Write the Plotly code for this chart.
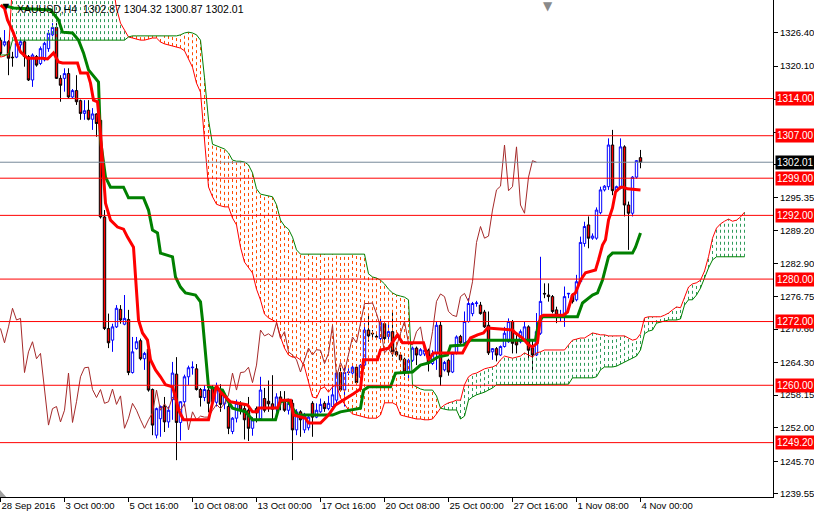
import plotly.graph_objects as go

# ---------------- data (XAUUSD, H4) ----------------
opens = [1325.0, 1324.1, 1324.7, 1321.8, 1321.8, 1324.1, 1324.7, 1321.9, 1317.5, 1321.9,
         1320.6, 1321.3, 1323.4, 1326.0, 1327.4, 1317.8, 1317.8, 1318.7, 1314.3, 1315.5,
         1313.6, 1311.2, 1311.8, 1310.1, 1311.1, 1309.9, 1291.7, 1270.7, 1268.5, 1271.0,
         1274.3, 1271.5, 1272.4, 1262.4, 1266.9, 1268.4, 1265.0, 1266.8, 1259.2, 1250.6,
         1253.7, 1256.0, 1253.1, 1257.3, 1262.1, 1253.0, 1256.9, 1261.6, 1263.3, 1263.1,
         1259.2, 1257.7, 1259.1, 1259.5, 1256.8, 1259.0, 1256.5, 1256.0, 1251.3, 1253.8,
         1256.3, 1255.6, 1255.3, 1251.9, 1255.6, 1253.7, 1257.5, 1257.0, 1256.5, 1255.6,
         1257.8, 1257.2, 1255.3, 1256.6, 1251.6, 1255.0, 1251.6, 1252.0, 1256.6, 1254.0,
         1255.0, 1256.6, 1255.6, 1256.0, 1257.2, 1262.4, 1259.1, 1262.4, 1262.3, 1263.4,
         1261.5, 1263.8, 1270.4, 1269.8, 1269.2, 1268.8, 1271.6, 1269.2, 1270.1, 1266.3,
         1265.7, 1264.9, 1262.5, 1264.7, 1267.0, 1265.7, 1265.9, 1266.6, 1264.1, 1266.0,
         1271.3, 1262.9, 1264.7, 1262.5, 1266.0, 1269.2, 1268.0, 1272.0, 1273.5, 1275.4,
         1275.1, 1273.8, 1271.3, 1266.3, 1266.9, 1265.7, 1267.3, 1268.2, 1272.0, 1268.5,
         1268.2, 1268.5, 1271.0, 1267.0, 1265.7, 1269.8, 1277.3, 1277.0, 1276.7, 1274.2,
         1272.9, 1272.9, 1277.2, 1277.0, 1276.1, 1279.5, 1286.7, 1290.2, 1287.7, 1287.7,
         1292.5, 1296.8, 1297.4, 1305.25, 1296.7, 1297.1, 1304.9, 1293.95, 1292.4, 1299.2,
         1302.87]
highs = [1325.5, 1326.9, 1325.0, 1322.8, 1325.3, 1325.3, 1325.0, 1322.2, 1322.5, 1322.2,
         1323.8, 1324.7, 1326.9, 1328.2, 1328.2, 1318.4, 1319.7, 1319.7, 1315.8, 1318.4,
         1313.8, 1313.7, 1313.7, 1312.2, 1311.2, 1310.2, 1293.0, 1273.5, 1271.6, 1275.1,
         1275.1, 1277.0, 1274.2, 1269.1, 1269.1, 1268.8, 1266.3, 1266.9, 1259.4, 1255.8,
         1256.2, 1257.8, 1256.0, 1264.4, 1265.3, 1257.0, 1262.0, 1263.7, 1264.5, 1264.0,
         1259.5, 1260.0, 1259.8, 1260.0, 1260.5, 1260.2, 1258.5, 1256.5, 1254.0, 1257.3,
         1257.0, 1256.5, 1257.8, 1254.0, 1256.0, 1261.6, 1259.5, 1260.9, 1261.9, 1258.5,
         1258.9, 1258.9, 1257.5, 1257.3, 1255.5, 1255.3, 1254.8, 1254.5, 1257.0, 1256.6,
         1257.5, 1257.0, 1258.0, 1260.0, 1262.8, 1263.6, 1263.8, 1263.2, 1263.8, 1263.7,
         1264.0, 1271.7, 1273.2, 1270.4, 1269.6, 1272.6, 1271.9, 1272.0, 1273.9, 1266.8,
         1266.0, 1265.2, 1265.0, 1267.3, 1267.3, 1267.0, 1267.2, 1266.9, 1266.6, 1272.0,
         1272.0, 1264.6, 1265.0, 1266.3, 1269.4, 1269.5, 1273.9, 1276.4, 1275.7, 1275.9,
         1275.7, 1274.2, 1273.9, 1267.0, 1267.2, 1267.5, 1271.0, 1272.6, 1272.3, 1269.8,
         1270.5, 1272.0, 1271.3, 1268.5, 1273.6, 1284.2, 1279.2, 1279.2, 1277.0, 1274.8,
         1274.2, 1278.6, 1277.4, 1277.3, 1280.8, 1288.0, 1290.8, 1291.8, 1288.6, 1293.5,
         1297.4, 1297.7, 1306.5, 1308.1, 1297.6, 1306.5, 1305.2, 1294.6, 1299.4, 1302.4,
         1304.32]
lows = [1322.0, 1323.8, 1318.4, 1320.0, 1321.6, 1322.5, 1320.0, 1317.3, 1316.2, 1320.0,
        1320.3, 1321.0, 1322.8, 1325.7, 1317.7, 1313.4, 1315.3, 1314.0, 1314.0, 1312.8,
        1310.0, 1310.0, 1309.9, 1308.1, 1306.8, 1291.4, 1270.4, 1267.0, 1266.3, 1270.8,
        1271.6, 1271.3, 1261.9, 1262.2, 1266.7, 1264.7, 1262.9, 1258.8, 1250.6, 1250.0,
        1250.3, 1251.2, 1252.0, 1253.5, 1245.9, 1249.6, 1256.0, 1260.0, 1262.0, 1259.0,
        1256.0, 1257.0, 1254.9, 1256.0, 1256.0, 1255.0, 1255.5, 1250.8, 1250.8, 1253.0,
        1254.5, 1249.8, 1249.5, 1250.5, 1253.0, 1253.5, 1254.9, 1255.0, 1253.5, 1255.0,
        1255.3, 1255.0, 1254.5, 1245.9, 1250.6, 1250.3, 1251.0, 1251.5, 1250.3, 1253.8,
        1254.8, 1255.0, 1255.3, 1255.8, 1256.5, 1258.8, 1256.0, 1261.9, 1262.0, 1260.3,
        1261.0, 1263.5, 1268.2, 1268.8, 1268.6, 1268.5, 1267.9, 1268.6, 1265.4, 1265.4,
        1264.5, 1261.8, 1261.3, 1264.4, 1263.8, 1265.5, 1265.5, 1262.6, 1263.8, 1262.9,
        1259.9, 1262.6, 1261.8, 1262.3, 1265.8, 1267.8, 1267.8, 1271.8, 1273.0, 1274.8,
        1273.3, 1270.8, 1265.7, 1264.8, 1264.5, 1265.5, 1267.1, 1268.0, 1266.0, 1266.0,
        1267.9, 1268.3, 1264.8, 1262.3, 1265.5, 1269.5, 1276.4, 1275.75, 1273.55, 1271.7,
        1272.0, 1271.0, 1276.4, 1275.4, 1275.8, 1279.2, 1286.1, 1285.8, 1287.4, 1287.4,
        1292.2, 1296.5, 1296.8, 1295.8, 1296.4, 1296.9, 1291.8, 1285.5, 1291.8, 1298.9,
        1300.87]
closes = [1322.5, 1324.7, 1321.6, 1321.7, 1324.4, 1324.7, 1321.9, 1317.5, 1322.2, 1320.3,
          1323.4, 1324.4, 1326.3, 1327.4, 1317.8, 1316.5, 1318.7, 1314.3, 1315.5, 1313.4,
          1311.2, 1311.7, 1310.1, 1311.1, 1309.3, 1291.7, 1270.7, 1268.0, 1271.0, 1274.5,
          1272.3, 1272.6, 1262.4, 1266.3, 1268.2, 1265.0, 1266.0, 1259.1, 1252.5, 1255.6,
          1256.0, 1253.1, 1255.3, 1262.3, 1253.0, 1256.9, 1261.6, 1263.3, 1263.4, 1259.2,
          1257.7, 1259.2, 1256.6, 1256.9, 1259.3, 1256.4, 1258.0, 1251.9, 1253.8, 1256.6,
          1255.3, 1253.5, 1251.9, 1253.5, 1254.8, 1259.1, 1255.3, 1256.5, 1255.5, 1257.8,
          1256.9, 1255.3, 1256.6, 1251.6, 1255.0, 1253.5, 1254.2, 1254.0, 1254.0, 1255.3,
          1256.4, 1255.6, 1256.6, 1258.2, 1262.3, 1259.1, 1262.4, 1262.5, 1263.4, 1260.5,
          1263.8, 1270.4, 1269.3, 1269.7, 1269.1, 1271.8, 1268.8, 1270.1, 1266.3, 1265.7,
          1264.8, 1262.5, 1264.7, 1267.0, 1265.7, 1266.7, 1266.6, 1264.1, 1266.0, 1271.3,
          1261.6, 1264.3, 1262.5, 1266.0, 1269.1, 1268.0, 1272.0, 1275.4, 1275.4, 1275.5,
          1273.5, 1271.0, 1266.1, 1266.9, 1265.7, 1267.3, 1269.8, 1272.0, 1267.9, 1267.6,
          1270.1, 1271.0, 1266.6, 1265.7, 1270.1, 1275.8, 1277.2, 1276.7, 1273.9, 1273.2,
          1272.95, 1276.7, 1277.3, 1275.75, 1279.5, 1286.9, 1289.9, 1287.7, 1288.1, 1293.0,
          1296.8, 1297.5, 1305.25, 1296.65, 1297.4, 1304.9, 1293.95, 1292.4, 1299.2, 1302.3,
          1302.01]
bars = list(range(len(closes)))

# Ichimoku: Tenkan-sen (red) and Kijun-sen (green), read at turning points
tenkan_x = [0, 1, 1.75, 3.25, 4.25, 5, 6.75, 10.5, 11.75, 13.25, 14.5, 15.5, 19.25, 20, 21.75,
            22.5, 23.25, 24.25, 25, 25.75, 26.25, 27.5, 29.25, 30.75, 31.75, 33.25, 33.75, 34.5,
            35.5, 36.75, 37.5, 38.75, 40, 41.25, 43, 43.75, 44.5, 45.75, 52, 53.25, 54, 55, 57.5,
            61.75, 63, 64.25, 64.5, 69.25, 70, 72.5, 73.25, 76.25, 77, 80, 82, 83.75, 85.75,
            88.25, 90, 90.75, 94.25, 95, 97, 98.25, 99.25, 100.5, 105.75, 107, 108.25, 115.5,
            116.75, 117.5, 119.25, 120.75, 121.75, 128, 128.75, 130.5, 132, 133, 134.25, 135,
            135.75, 140.75, 141.75, 143, 143.75, 145, 146.25, 148.75, 149.5, 150.5, 151.25, 152,
            153, 153.75, 155, 155.75, 156.75, 160]
tenkan_y = [1331.6, 1331.0, 1328.8, 1326.35, 1324.1, 1322.8, 1321.6, 1321.6, 1321.45, 1322.6,
            1320.9, 1320.7, 1320.7, 1318.8, 1318.8, 1316.9, 1313.7, 1313.4, 1307.5, 1298.7,
            1294.3, 1291.1, 1289.8, 1289.4, 1287.9, 1286.0, 1279.8, 1272.3, 1269.85, 1268.5,
            1264.8, 1262.9, 1261.6, 1260.1, 1259.7, 1257.8, 1255.35, 1253.5, 1253.5, 1257.2,
            1259.9, 1258.7, 1256.9, 1256.3, 1255.0, 1255.0, 1255.7, 1255.7, 1257.2, 1257.2,
            1254.4, 1253.8, 1252.9, 1252.9, 1254.4, 1256.3, 1257.2, 1258.4, 1259.3, 1264.8,
            1264.8, 1266.65, 1267.0, 1268.5, 1269.5, 1268.0, 1268.0, 1264.8, 1266.1, 1266.1,
            1268.0, 1268.9, 1269.5, 1269.85, 1270.8, 1270.4, 1269.85, 1268.9, 1267.6, 1267.2,
            1268.0, 1272.9, 1273.2, 1273.2, 1273.8, 1277.0, 1277.4, 1279.8, 1281.2, 1281.7,
            1283.6, 1286.4, 1287.4, 1291.1, 1293.4, 1296.4, 1297.3, 1297.3, 1297.0, 1296.8]
kijun_x = [0.5, 3.25, 12.5, 14.5, 15.5, 18, 19.5, 20.75, 22, 23.75, 24.5, 25, 25.5, 26.25, 27.5,
           30.75, 32, 35.75, 37, 38, 39.25, 40, 43, 43.75, 45, 46.25, 48.75, 50, 50.5, 51.25,
           52, 55.5, 56.75, 58, 61.25, 63, 68.75, 70, 71.75, 73, 74.25, 83, 85, 90, 90.75, 92,
           97.5, 98.75, 103, 105, 107, 109.25, 111.75, 112.5, 115.75, 117.5, 133.75, 134.5,
           135.5, 144.25, 145.5, 148, 149.25, 150.5, 152, 153, 158, 158.75, 160]
kijun_y = [1331.6, 1331.05, 1330.7, 1328.8, 1326.5, 1326.35, 1325.0, 1322.6, 1319.4, 1317.9,
           1317.1, 1306.2, 1303.75, 1299.2, 1297.3, 1297.3, 1295.3, 1295.3, 1293.0, 1289.25,
           1288.7, 1284.9, 1284.2, 1280.4, 1278.5, 1277.4, 1277.0, 1275.7, 1272.3, 1266.1,
           1259.7, 1259.1, 1257.2, 1255.7, 1255.0, 1253.5, 1253.5, 1256.9, 1257.2, 1255.7,
           1254.4, 1254.4, 1255.0, 1255.7, 1259.1, 1259.7, 1259.7, 1262.3, 1262.5, 1263.8,
           1264.2, 1265.3, 1265.7, 1267.4, 1267.6, 1268.5, 1268.5, 1271.7, 1272.9, 1272.9,
           1275.5, 1277.0, 1277.4, 1279.8, 1284.2, 1284.9, 1284.9, 1286.0, 1288.7]

# Senkou Span A / B (cloud), one value per bar, 26 bars ahead of the last candle
span_a = [1321.8, 1322.0, 1322.6,
          1336.0, 1336.0, 1336.0, 1336.0, 1336.0, 1336.0, 1336.0, 1336.0, 1336.0, 1336.0,
          1336.0, 1336.0, 1336.0, 1336.0, 1336.0, 1336.0, 1336.0, 1336.0, 1336.0, 1336.0,
          1336.0, 1336.0, 1336.0, 1336.0, 1336.0, 1336.0,
          1331.0, 1328.2, 1326.9, 1325.6, 1325.4, 1325.2, 1325.0, 1325.0, 1325.2, 1325.4,
          1325.4, 1324.65, 1324.3, 1324.1, 1323.9, 1323.7, 1323.5, 1323.0, 1321.6, 1319.9,
          1316.9, 1315.2, 1306.2, 1297.35, 1295.5, 1294.1, 1293.8, 1293.6, 1293.6, 1291.5,
          1290.2, 1286.0, 1283.2, 1282.1, 1281.15, 1278.1, 1276.06, 1273.4, 1272.7, 1272.3,
          1271.9, 1269.1, 1267.0, 1265.7, 1265.3, 1265.3, 1264.8, 1263.45, 1260.6, 1257.8,
          1257.6, 1259.3, 1259.7, 1258.7, 1259.7, 1260.1, 1257.6, 1256.5, 1255.35, 1254.6,
          1254.4, 1254.2, 1254.0, 1253.8, 1253.8, 1253.8, 1254.4, 1256.7, 1256.7, 1256.7,
          1256.3, 1254.4, 1254.2, 1254.0, 1253.8, 1253.65, 1253.65, 1253.5, 1253.5, 1253.65,
          1254.6, 1255.7, 1256.3, 1256.7, 1256.9, 1257.2, 1257.2, 1260.1, 1261.6, 1262.1,
          1262.3, 1262.7, 1263.1, 1263.3, 1263.45, 1263.8, 1264.8, 1265.5, 1265.3, 1265.1,
          1265.3, 1265.5, 1266.1, 1265.7, 1265.3, 1266.1, 1266.3, 1266.65, 1266.65, 1266.65,
          1266.65, 1266.65, 1266.65, 1267.6, 1268.5, 1268.7, 1268.9, 1268.9, 1269.3, 1269.85,
          1269.7, 1269.5, 1269.5, 1269.3, 1269.3, 1269.3, 1269.3, 1269.3, 1268.9, 1268.5,
          1268.7, 1269.7, 1272.7, 1272.9, 1272.9, 1272.9, 1272.9, 1273.2, 1273.6, 1274.2,
          1274.75, 1274.6, 1276.4, 1278.5, 1279.1, 1279.3, 1279.8, 1281.5, 1284.2, 1287.7,
          1289.6, 1290.4, 1290.9, 1291.3, 1290.9, 1291.1, 1291.7, 1292.6]
span_b = [1322.2, 1322.2, 1322.2,
          1325.0, 1325.0, 1325.0, 1325.0, 1325.0, 1325.0, 1325.0, 1325.0, 1325.0, 1325.0,
          1325.0, 1325.0, 1325.0, 1325.0, 1325.0, 1325.0, 1325.0, 1325.0, 1325.0, 1325.0,
          1325.0, 1325.0, 1325.0, 1325.0, 1325.0, 1325.0, 1325.0, 1325.0, 1325.0,
          1325.6,
          1325.8, 1325.8, 1325.8, 1325.8, 1325.8, 1325.8, 1325.8, 1325.8, 1325.8, 1325.8,
          1325.8, 1325.8,
          1326.0, 1326.35, 1326.5, 1326.35, 1326.0, 1325.0, 1317.9, 1310.0, 1305.4, 1305.1,
          1304.9, 1304.5, 1303.75, 1302.4, 1302.2, 1302.2, 1302.05, 1301.5, 1300.0, 1297.0,
          1296.0, 1295.8, 1295.65, 1295.5, 1294.0, 1291.1, 1290.0, 1289.4, 1287.9, 1285.5,
          1284.7, 1284.7, 1284.7, 1284.7, 1284.7, 1284.7, 1284.7, 1284.7, 1284.7, 1284.7,
          1284.7, 1284.7, 1284.7, 1284.7, 1284.7, 1284.7, 1284.7,
          1281.0, 1280.4, 1280.2, 1279.8, 1279.1, 1278.1, 1277.4, 1277.0, 1276.8, 1276.6,
          1276.1, 1260.1, 1259.7, 1259.3, 1259.1, 1259.1, 1259.1, 1258.0, 1255.7, 1255.5,
          1255.35, 1255.35, 1255.35, 1253.65, 1254.2, 1257.2, 1257.8, 1258.2, 1258.4, 1258.7,
          1259.1, 1259.5,
          1260.1, 1260.1, 1260.1, 1260.1, 1260.1, 1260.1, 1260.1, 1260.1, 1260.1, 1260.1,
          1260.1, 1260.1, 1260.1, 1260.1, 1260.1, 1260.1, 1260.1, 1260.1,
          1260.2, 1261.4, 1261.4, 1261.4, 1261.4, 1261.4, 1261.4, 1261.6, 1262.9, 1263.45,
          1263.45, 1263.45, 1263.6, 1264.0, 1264.4, 1264.8, 1265.1, 1265.5, 1266.65, 1269.7,
          1270.2, 1270.4, 1271.7, 1271.9, 1272.1, 1272.3, 1272.3, 1272.3, 1272.5, 1275.1,
          1276.1, 1276.1, 1277.0, 1278.3, 1280.2, 1282.1, 1283.6,
          1284.2, 1284.2, 1284.2, 1284.2, 1284.2, 1284.2, 1284.2, 1284.2]
assert len(span_a) == len(span_b) == 187, (len(span_a), len(span_b))
cloud_bars = list(range(len(span_a)))

# Chikou span: close plotted 26 bars back
chikou_shift = 26
chikou_x = bars[:-chikou_shift]
chikou_y = closes[chikou_shift:]

# horizontal levels
red_levels = [1314.00, 1307.00, 1299.00, 1292.00, 1280.00, 1272.00, 1260.00, 1249.20]
bid_level = 1302.01

# axis ticks
tick_bars = [0, 16, 32, 48, 64, 80, 96, 112, 128, 144, 160]
tick_labels = ["28 Sep 2016", "3 Oct 00:00", "5 Oct 16:00", "10 Oct 08:00", "13 Oct 00:00",
               "17 Oct 16:00", "20 Oct 08:00", "25 Oct 00:00", "27 Oct 16:00", "1 Nov 08:00",
               "4 Nov 00:00"]
price_ticks = [1326.40, 1320.10, 1313.85, 1307.70, 1301.55, 1295.35, 1289.20, 1282.90,
               1276.75, 1270.60, 1264.30, 1258.15, 1252.00, 1245.70, 1239.55]
title_text = "XAUUSD,H4  1302.87 1304.32 1300.87 1302.01"

# ---------------- figure ----------------
FONT = "Liberation Sans"
fig = go.Figure()

hx_o, hy_o, hx_g, hy_g = [], [], [], []
for i, a, b in zip(cloud_bars, span_a, span_b):
    if a < b:
        hx_o += [i, i, None]
        hy_o += [a, b, None]
    else:
        hx_g += [i, i, None]
        hy_g += [b, a, None]

fig.add_trace(go.Scatter(x=hx_o, y=hy_o, mode="lines", hoverinfo="skip",
                         line=dict(color="#ff4a00", width=1, dash="3px,3px")))
fig.add_trace(go.Scatter(x=hx_g, y=hy_g, mode="lines", hoverinfo="skip",
                         line=dict(color="#2e9b5a", width=1, dash="3px,3px")))
fig.add_trace(go.Scatter(x=cloud_bars, y=span_a, mode="lines", hoverinfo="skip",
                         line=dict(color="#ff0000", width=1)))
fig.add_trace(go.Scatter(x=cloud_bars, y=span_b, mode="lines", hoverinfo="skip",
                         line=dict(color="#008000", width=1)))

fig.add_trace(go.Candlestick(
    x=bars, open=opens, high=highs, low=lows, close=closes,
    increasing=dict(line=dict(color="#0000ff", width=1), fillcolor="#ffffff"),
    decreasing=dict(line=dict(color="#000000", width=1), fillcolor="#ff0000"),
    whiskerwidth=0, hoverinfo="skip"))

fig.add_trace(go.Scatter(x=chikou_x, y=chikou_y, mode="lines", hoverinfo="skip",
                         line=dict(color="#a52a2a", width=1)))
fig.add_trace(go.Scatter(x=kijun_x, y=kijun_y, mode="lines", hoverinfo="skip",
                         line=dict(color="#008000", width=3)))
fig.add_trace(go.Scatter(x=tenkan_x, y=tenkan_y, mode="lines", hoverinfo="skip",
                         line=dict(color="#ff0000", width=3)))

shapes = []
for lv in red_levels:
    shapes.append(dict(type="line", xref="paper", x0=0, x1=1, yref="y", y0=lv, y1=lv,
                       line=dict(color="#ff0000", width=1), layer="above"))
shapes.append(dict(type="line", xref="paper", x0=0, x1=1, yref="y", y0=bid_level, y1=bid_level,
                   line=dict(color="#778899", width=1), layer="above"))
shapes.append(dict(type="path", xref="paper", yref="paper",
                   path="M 0 0 L 0.008 0 L 0 0.014 Z", fillcolor="#a0a0a0",
                   line=dict(width=0), layer="above"))

annotations = []
for lv in red_levels:
    annotations.append(dict(x=1, xref="paper", xanchor="left", xshift=2, y=lv, yref="y",
                            text=f"{lv:.2f}", showarrow=False, bgcolor="#ff0000", borderpad=1,
                            font=dict(family=FONT, size=10, color="#ffffff")))
annotations.append(dict(x=1, xref="paper", xanchor="left", xshift=2, y=bid_level, yref="y",
                        text=f"{bid_level:.2f}", showarrow=False, bgcolor="#000000", borderpad=1,
                        font=dict(family=FONT, size=10, color="#ffffff")))
annotations.append(dict(x=0.019, xref="paper", xanchor="left", y=1, yref="paper",
                        yanchor="top", yshift=-1, text=title_text, showarrow=False,
                        font=dict(family=FONT, size=10.5, color="#000000")))
annotations.append(dict(x=0.009, xref="paper", xanchor="center", y=1, yref="paper",
                        yanchor="top", yshift=0, text="▼", showarrow=False,
                        font=dict(family="DejaVu Sans", size=8, color="#000000")))
annotations.append(dict(x=548 / 773, xref="paper", xanchor="center", y=1, yref="paper",
                        yanchor="top", yshift=3, text="▼", showarrow=False,
                        font=dict(family="DejaVu Sans", size=12, color="#8a8a8a")))

fig.update_layout(
    template="none",
    width=814, height=514,
    margin=dict(l=0, r=41, t=0, b=17, pad=0),
    paper_bgcolor="#ffffff", plot_bgcolor="#ffffff",
    showlegend=False, boxgap=0.15,
    shapes=shapes, annotations=annotations,
    xaxis=dict(range=[-0.125, 193.125], showgrid=False, zeroline=False, showline=True,
               linecolor="#000000", linewidth=1, ticks="outside", ticklen=4,
               tickcolor="#000000", tickwidth=1, tickvals=tick_bars, ticktext=tick_labels,
               ticklabelposition="outside right",
               tickfont=dict(family=FONT, size=9.5, color="#000000"),
               rangeslider=dict(visible=False), automargin=False, fixedrange=True),
    yaxis=dict(side="right", range=[1238.96, 1332.56], showgrid=False, zeroline=False,
               showline=True, linecolor="#000000", linewidth=1, ticks="outside", ticklen=4,
               tickcolor="#000000", tickwidth=1, tickvals=price_ticks,
               ticktext=[f"{v:.2f}" for v in price_ticks],
               tickfont=dict(family=FONT, size=9.5, color="#000000"),
               automargin=False, fixedrange=True),
)

fig.write_html("out.html", config={"displayModeBar": False},
               post_script="document.body.style.margin='0px';document.body.style.overflow='hidden';")
